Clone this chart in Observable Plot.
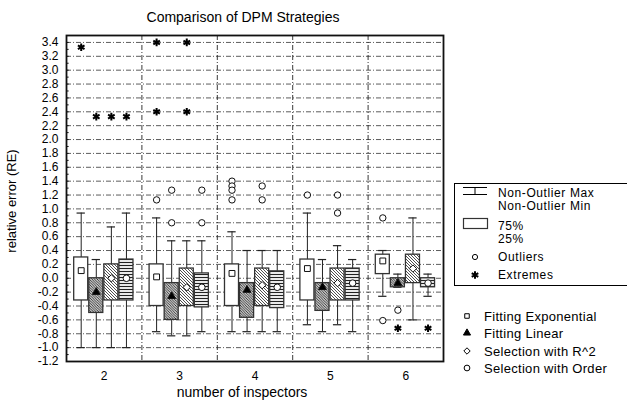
<!DOCTYPE html>
<html><head><meta charset="utf-8">
<script src="https://cdn.jsdelivr.net/npm/d3@7"></script>
<script src="https://cdn.jsdelivr.net/npm/@observablehq/plot@0.6"></script>
<style>
body{margin:0;background:#fff}
svg{font-family:"Liberation Sans",Arial,sans-serif}
</style>
</head><body><div id="chart"></div>
<script>
// ---- data ----
const groups = [2, 3, 4, 5, 6];
const strategies = ["Fitting Exponential", "Fitting Linear", "Selection with R^2", "Selection with Order"];
const yTicks = [-1.2,-1.0,-0.8,-0.6,-0.4,-0.2,0.0,0.2,0.4,0.6,0.8,1.0,1.2,1.4,1.6,1.8,2.0,2.2,2.4,2.6,2.8,3.0,3.2,3.4];
const titleText = "Comparison of DPM Strategies";
const xLabel = "number of inspectors";
const yLabel = "relative error (RE)";
const boxLegend = ["Non-Outlier Max", "Non-Outlier Min", "75%", "25%", "Outliers", "Extremes"];

const expMax = [0.94, 0.87, 0.67, 0.94, 0.40];
const expQ3  = [0.30, 0.20, 0.20, 0.27, 0.34];
const expMed = [0.11, 0.02, 0.07, 0.14, 0.25];
const expQ1  = [-0.32, -0.40, -0.40, -0.32, 0.06];
const expMin = [-1.00, -0.77, -0.77, -0.67, -0.26];

const linMax = [0.27, 0.54, 0.40, 0.27, 0.06];
const linQ3  = [0.00, -0.07, -0.07, -0.07, 0.00];
const linMed = [-0.20, -0.26, -0.17, -0.13, -0.07];
const linQ1  = [-0.50, -0.60, -0.57, -0.47, -0.13];
const linMin = [-1.00, -0.83, -0.77, -0.77, -0.13];

const r2Max = [0.74, 0.54, 0.40, 0.47, 0.87];
const r2Q3  = [0.20, 0.14, 0.14, 0.14, 0.34];
const r2Med = [0.00, -0.13, -0.10, -0.07, 0.14];
const r2Q1  = [-0.32, -0.40, -0.40, -0.32, -0.07];
const r2Min = [-1.00, -0.83, -0.77, -0.67, -0.60];

const ordMax = [0.94, 0.54, 0.40, 0.27, 0.06];
const ordQ3  = [0.27, 0.07, 0.10, 0.14, 0.00];
const ordMed = [0.00, -0.13, -0.13, -0.07, -0.07];
const ordQ1  = [-0.32, -0.42, -0.43, -0.32, -0.13];
const ordMin = [-1.00, -0.77, -0.77, -0.77, -0.26];

// outliers and extremes: [group, strategy index, value]
const outliers = [
  [3,0,1.13],[3,1,1.27],[3,1,0.80],[3,3,1.27],[3,3,0.80],
  [4,0,1.40],[4,0,1.33],[4,0,1.27],[4,0,1.13],[4,2,1.33],[4,2,1.13],
  [5,0,1.20],[5,2,1.20],[5,2,0.94],
  [6,0,0.87],[6,0,-0.61],[6,1,-0.46]
];
const extremes = [
  [2,0,3.33],[2,1,2.33],[2,2,2.33],[2,3,2.33],
  [3,0,3.40],[3,0,2.40],[3,2,3.40],[3,2,2.40],
  [6,1,-0.72],[6,3,-0.72]
];

// ---- layout helpers ----
const offsets = [-0.305, -0.105, 0.095, 0.295];
const stats = [
  [expMin, expQ1, expMed, expQ3, expMax],
  [linMin, linQ1, linMed, linQ3, linMax],
  [r2Min, r2Q1, r2Med, r2Q3, r2Max],
  [ordMin, ordQ1, ordMed, ordQ3, ordMax]
];
const rows = [];
stats.forEach((st, s) => groups.forEach((g, j) => rows.push({
  s, g, pos: g + offsets[s], min: st[0][j], q1: st[1][j], med: st[2][j], q3: st[3][j], max: st[4][j]
})));
const outRows = outliers.map(([g, s, v]) => ({pos: g + offsets[s], v}));
const extRows = extremes.map(([g, s, v]) => ({pos: g + offsets[s], v}));
const minorTicks = d3.range(-11, 35).map(i => i / 10);

const boxFills = ["white", "url(#hatchA)", "url(#hatchB)", "url(#hatchC)"];
const medSymbols = ["square", "triangle", "diamond2", "circle"];
const medFills = ["white", "black", "white", "white"];
const hw = 0.093, cw = 0.055;
const dash = "5,2,1,2";

const marks = [
  Plot.ruleY(yTicks.slice(1), {stroke: "#333", strokeWidth: 0.8, strokeDasharray: dash}),
  Plot.ruleX([2.5, 3.5, 4.5, 5.5], {stroke: "#222", strokeWidth: 0.9, strokeDasharray: dash}),
  Plot.ruleY(minorTicks, {x1: 1.5, x2: 1.535, stroke: "#111", strokeWidth: 1}),
  Plot.ruleX(rows, {x: "pos", y1: "min", y2: "max", stroke: "#222", strokeWidth: 1}),
  Plot.ruleY(rows, {y: "max", x1: d => d.pos - cw, x2: d => d.pos + cw, stroke: "#222", strokeWidth: 1.2}),
  Plot.ruleY(rows, {y: "min", x1: d => d.pos - cw, x2: d => d.pos + cw, stroke: "#222", strokeWidth: 1.2})
];
strategies.forEach((name, s) => {
  marks.push(Plot.rect(rows.filter(d => d.s === s), {
    x1: d => d.pos - hw, x2: d => d.pos + hw, y1: "q1", y2: "q3",
    fill: boxFills[s], stroke: "#333", strokeWidth: 1.3
  }));
});
strategies.forEach((name, s) => {
  marks.push(Plot.dot(rows.filter(d => d.s === s), {
    x: "pos", y: "med", symbol: medSymbols[s], r: s === 1 ? 2.9 : 3.3,
    fill: medFills[s], stroke: "#111", strokeWidth: 1
  }));
});
marks.push(
  Plot.dot(outRows, {x: "pos", y: "v", r: 3.2, fill: "white", stroke: "#111", strokeWidth: 1}),
  Plot.dot(extRows, {x: "pos", y: "v", symbol: "asterisk", r: 3.6, stroke: "#000", strokeWidth: 2}),
  Plot.frame({stroke: "#111", strokeWidth: 1.8}),
  Plot.axisY(yTicks, {tickSize: 0, tickPadding: 8, tickFormat: d => d.toFixed(1), fontSize: 12, label: null}),
  Plot.axisX(groups, {tickSize: 0, tickPadding: 10, fontSize: 12, label: null})
);

const chart = Plot.plot({
  width: 627, height: 403,
  marginLeft: 66, marginRight: 184, marginTop: 35, marginBottom: 42,
  style: {fontFamily: '"Liberation Sans", Arial, sans-serif', color: "#000", background: "#fff"},
  x: {domain: [1.5, 6.5], label: null},
  y: {domain: [-1.2, 3.5], label: null},
  marks
});
document.getElementById("chart").appendChild(chart);

const svg = d3.select(chart);
svg.insert("defs", ":first-child").html(`
  <pattern id="hatchA" patternUnits="userSpaceOnUse" width="2.6" height="2.6">
    <rect width="2.6" height="2.6" fill="white"/>
    <path d="M-1,-1L3.6,3.6M-1,1.6L1,3.6M1.6,-1L3.6,1" stroke="#222" stroke-width="0.9"/>
  </pattern>
  <pattern id="hatchB" patternUnits="userSpaceOnUse" width="3" height="3">
    <rect width="3" height="3" fill="white"/>
    <path d="M-1,-1L4,4M-1,2L1,4M2,-1L4,1" stroke="#222" stroke-width="0.8"/>
  </pattern>
  <pattern id="hatchC" patternUnits="userSpaceOnUse" width="4" height="3">
    <rect width="4" height="3" fill="white"/>
    <path d="M0,1.5H4" stroke="#222" stroke-width="1.2"/>
  </pattern>`);

const font = '"Liberation Sans", Arial, sans-serif';
const addText = (x, y, t, size, anchor = "start", rot = 0, ls = 0) =>
  svg.append("text").attr("x", x).attr("y", y).attr("font-size", size)
    .attr("font-family", font).attr("fill", "#000").attr("text-anchor", anchor)
    .attr("letter-spacing", ls || null)
    .attr("transform", rot ? `rotate(${rot},${x},${y})` : null).text(t);

addText(243, 22, titleText, 14, "middle");
addText(242, 397, xLabel, 14, "middle");
addText(16, 201, yLabel, 13, "middle", -90);

// box legend
svg.append("rect").attr("x", 454.5).attr("y", 183.5).attr("width", 180).attr("height", 102)
  .attr("fill", "none").attr("stroke", "#000").attr("stroke-width", 1);
svg.append("path").attr("d", "M463,187.5H487M475,187.5V194.5M463,194.5H487")
  .attr("stroke", "#000").attr("stroke-width", 1).attr("fill", "none");
svg.append("rect").attr("x", 463.5).attr("y", 218.5).attr("width", 24).attr("height", 10)
  .attr("fill", "white").attr("stroke", "#333").attr("stroke-width", 1.2);
svg.append("circle").attr("cx", 475).attr("cy", 257).attr("r", 2.6)
  .attr("fill", "white").attr("stroke", "#000");
svg.append("path").attr("d", d3.symbol(d3.symbolAsterisk, 40)()).attr("transform", "translate(475,275)")
  .attr("stroke", "#000").attr("stroke-width", 2);
const lgY = [196.5, 209.5, 229.5, 242.5, 261, 279];
boxLegend.forEach((t, i) => addText(498, lgY[i], t, 12, "start", 0, 0.6));

// strategy legend
const sY = [316, 333, 351, 368];
strategies.forEach((t, i) => {
  addText(484, sY[i] + 4.5, t, 13, "start", 0, 0.3);
  const sym = [d3.symbolSquare2, d3.symbolTriangle, d3.symbolDiamond2, d3.symbolCircle][i];
  svg.append("path").attr("d", d3.symbol(sym, i === 1 ? 22 : 26)())
    .attr("transform", `translate(467,${sY[i]})`)
    .attr("fill", medFills[i]).attr("stroke", "#000").attr("stroke-width", 1);
});
</script>
</body></html>
